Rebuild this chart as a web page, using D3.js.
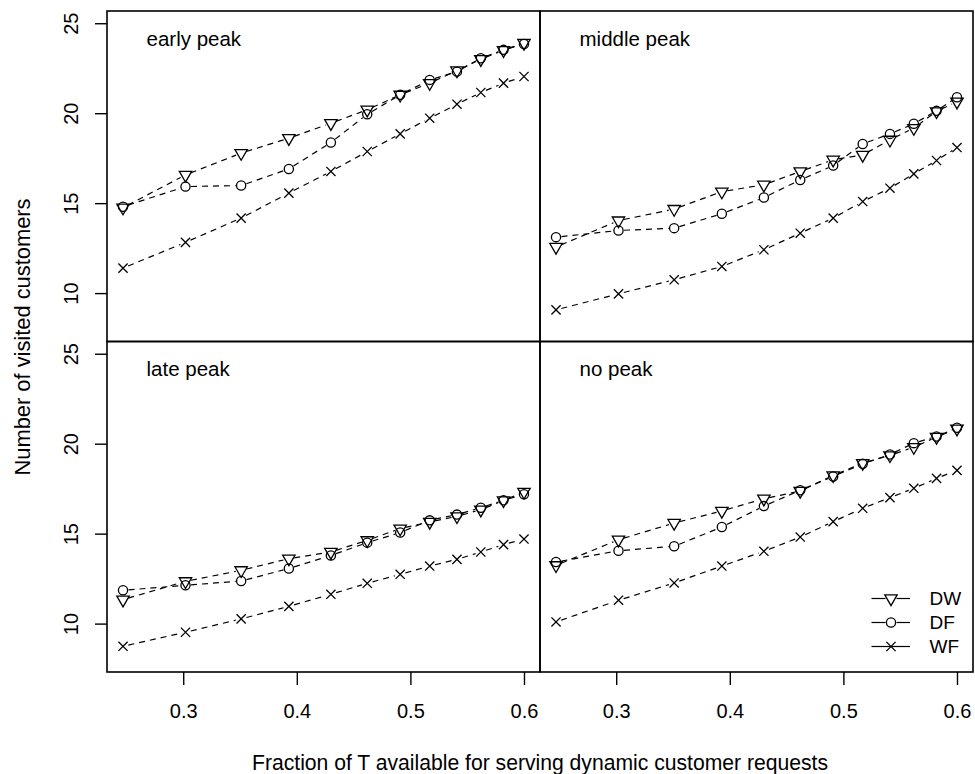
<!DOCTYPE html>
<html lang="en">
<head>
  <meta charset="UTF-8" />
  <title>Visited customers by fraction of T</title>
  <script src="https://d3js.org/d3.v7.min.js"></script>
  <style>
    body {
      margin: 0;
      background: #fff;
    }
    svg {
      display: block;
      font-family: "Liberation Sans", Arial, Helvetica, sans-serif;
    }
  </style>
</head>
<body>
  <svg width="975" height="774"></svg>

  <script>
    // fraction of T (x values, shared by all panels)
    const fractions = [0.247, 0.302, 0.351, 0.393, 0.430, 0.462, 0.491, 0.517, 0.541, 0.562, 0.582, 0.600];

    const earlyDW = [14.75, 16.57, 17.78, 18.61, 19.44, 20.19, 21.02, 21.67, 22.37, 23.00, 23.50, 23.90];
    const earlyDF = [14.80, 15.92, 15.98, 16.90, 18.37, 19.94, 21.02, 21.85, 22.31, 23.05, 23.52, 23.85];
    const earlyWF = [11.39, 12.82, 14.17, 15.56, 16.76, 17.87, 18.85, 19.72, 20.50, 21.15, 21.67, 22.04];

    const middleDW = [12.56, 14.03, 14.67, 15.64, 16.02, 16.76, 17.41, 17.68, 18.52, 19.17, 20.10, 20.64];
    const middleDF = [13.11, 13.48, 13.61, 14.41, 15.31, 16.29, 17.09, 18.29, 18.85, 19.41, 20.13, 20.89];
    const middleWF = [9.07, 9.96, 10.74, 11.48, 12.41, 13.33, 14.17, 15.09, 15.83, 16.63, 17.37, 18.09];

    const lateDW = [11.33, 12.35, 12.96, 13.61, 13.98, 14.63, 15.28, 15.65, 15.96, 16.33, 16.85, 17.32];
    const lateDF = [11.85, 12.13, 12.37, 13.06, 13.79, 14.50, 15.06, 15.74, 16.06, 16.44, 16.85, 17.19];
    const lateWF = [8.74, 9.52, 10.26, 10.96, 11.63, 12.24, 12.74, 13.20, 13.57, 13.98, 14.39, 14.70];

    const noDW = [13.24, 14.66, 15.59, 16.26, 16.94, 17.37, 18.24, 18.92, 19.35, 19.81, 20.37, 20.83];
    const noDF = [13.42, 14.05, 14.30, 15.37, 16.53, 17.41, 18.18, 18.88, 19.40, 20.03, 20.40, 20.89];
    const noWF = [10.09, 11.30, 12.26, 13.20, 14.02, 14.81, 15.67, 16.41, 17.00, 17.52, 18.07, 18.52];

    const panelNames = ["early peak", "middle peak", "late peak", "no peak"];
    const seriesNames = ["DW", "DF", "WF"];
    const xTicks = [0.3, 0.4, 0.5, 0.6];
    const yTicks = [10, 15, 20, 25];

    const panelData = [
      [earlyDW, earlyDF, earlyWF],
      [middleDW, middleDF, middleWF],
      [lateDW, lateDF, lateWF],
      [noDW, noDF, noWF]
    ];

    const svg = d3.select("svg");
    const margin = { top: 11, left: 107 };
    const panelW = 433, panelH = 330.5;

    const x = d3.scaleLinear().domain([0.2329, 0.6141]).range([0, panelW]);
    const y = d3.scaleLinear().domain([7.31, 25.68]).range([panelH, 0]);

    const R = 4.6; // symbol radius

    // R-style point symbols: pch 6, 1, 4
    function drawSymbol(g, kind, cx, cy) {
      if (kind === "DW") {
        const r = 1.555 * R, yc = r / 2, xc = r * Math.sqrt(3) / 2;
        g.append("path")
          .attr("d", `M${cx},${cy + r}L${cx + xc},${cy - yc}L${cx - xc},${cy - yc}Z`)
          .attr("fill", "none").attr("stroke", "#000").attr("stroke-width", 1.3);
      } else if (kind === "DF") {
        g.append("circle").attr("cx", cx).attr("cy", cy).attr("r", R)
          .attr("fill", "none").attr("stroke", "#000").attr("stroke-width", 1.3);
      } else {
        g.append("path")
          .attr("d", `M${cx - R},${cy - R}L${cx + R},${cy + R}M${cx - R},${cy + R}L${cx + R},${cy - R}`)
          .attr("stroke", "#000").attr("stroke-width", 1.3);
      }
    }

    // segment between two points with a small gap at each end (type = "b")
    function gapSegment(g, x0, y0, x1, y1, gap, dash) {
      const dx = x1 - x0, dy = y1 - y0, len = Math.hypot(dx, dy);
      if (len <= 2 * gap) return;
      const ux = dx / len, uy = dy / len;
      g.append("line")
        .attr("x1", x0 + ux * gap).attr("y1", y0 + uy * gap)
        .attr("x2", x1 - ux * gap).attr("y2", y1 - uy * gap)
        .attr("stroke", "#000")
        .attr("stroke-width", 1.2)
        .attr("stroke-dasharray", dash);
    }

    panelData.forEach((series, i) => {
      const col = i % 2, row = Math.floor(i / 2);
      const g = svg.append("g")
        .attr("transform", `translate(${margin.left + col * panelW},${margin.top + row * panelH})`);

      // lines first, then symbols
      series.forEach((vals, s) => {
        for (let k = 0; k < vals.length - 1; k++) {
          gapSegment(g, x(fractions[k]), y(vals[k]), x(fractions[k + 1]), y(vals[k + 1]), 5.5, "6,5");
        }
      });
      series.forEach((vals, s) => {
        vals.forEach((v, k) => drawSymbol(g, seriesNames[s], x(fractions[k]), y(v)));
      });

      g.append("text")
        .attr("x", 39.5)
        .attr("y", 34.5)
        .attr("font-size", 20.5)
        .text(panelNames[i]);

      g.append("rect")
        .attr("width", panelW).attr("height", panelH)
        .attr("fill", "none").attr("stroke", "#000").attr("stroke-width", 1.6);

      // y axis on the left column
      if (col === 0) {
        const yAxis = g.append("g").call(d3.axisLeft(y).tickValues(yTicks).tickSize(12).tickSizeOuter(0));
        yAxis.select(".domain").remove();
        yAxis.selectAll("line").attr("stroke-width", 1.4);
        yAxis.selectAll("text")
          .attr("font-size", 20)
          .attr("font-family", null)
          .attr("fill", "#000")
          .attr("dy", null)
          .attr("x", null)
          .attr("text-anchor", "middle")
          .attr("transform", "translate(-29,0) rotate(-90)");
      }

      // x axis on the bottom row
      if (row === 1) {
        const xAxis = g.append("g")
          .attr("transform", `translate(0,${panelH})`)
          .call(d3.axisBottom(x).tickValues(xTicks).tickFormat(d3.format(".1f")).tickSize(13).tickSizeOuter(0));
        xAxis.select(".domain").remove();
        xAxis.selectAll("line").attr("stroke-width", 1.4);
        xAxis.selectAll("text")
          .attr("font-size", 20)
          .attr("font-family", null)
          .attr("fill", "#000")
          .attr("dy", null)
          .attr("y", 46);
      }

      // legend in the last panel
      if (i === 3) {
        const lg = g.append("g");
        seriesNames.forEach((name, s) => {
          const ly = 257 + s * 24;
          const lx0 = 331.5, lx1 = 370, lc = 351;
          const gap = name === "WF" ? 0 : 5.5;
          g.append("line").attr("x1", lx0).attr("x2", lc - gap).attr("y1", ly).attr("y2", ly)
            .attr("stroke", "#000").attr("stroke-width", 1.2);
          g.append("line").attr("x1", lc + gap).attr("x2", lx1).attr("y1", ly).attr("y2", ly)
            .attr("stroke", "#000").attr("stroke-width", 1.2);
          drawSymbol(lg, name, lc, ly);
          lg.append("text")
            .attr("x", 389.5)
            .attr("y", ly + 6.7)
            .attr("font-size", 19)
            .text(name);
        });
      }
    });

    // axis titles
    svg.append("text")
      .attr("x", 540)
      .attr("y", 770)
      .attr("text-anchor", "middle")
      .attr("font-size", 22)
      .attr("textLength", 576)
      .attr("lengthAdjust", "spacingAndGlyphs")
      .text("Fraction of T available for serving dynamic customer requests");

    svg.append("text")
      .attr("transform", "translate(30,337) rotate(-90)")
      .attr("text-anchor", "middle")
      .attr("font-size", 22)
      .attr("textLength", 277)
      .attr("lengthAdjust", "spacingAndGlyphs")
      .text("Number of visited customers");
  </script>
</body>
</html>
